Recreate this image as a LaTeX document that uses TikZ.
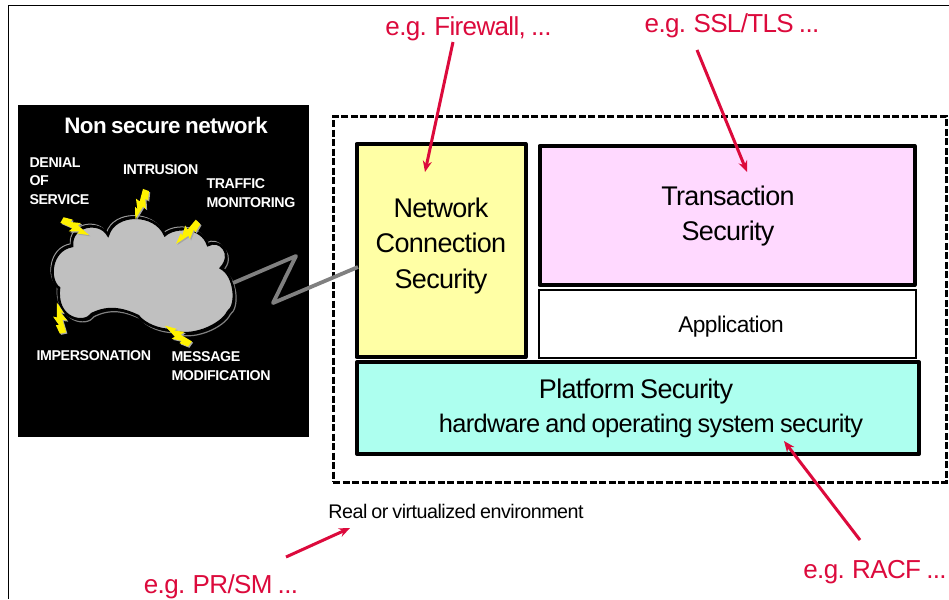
\documentclass[tikz,border=0pt]{standalone}
\usepackage{fontspec}
\setmainfont[LetterSpace=-2.5,WordSpace=0.8]{Liberation Sans}
\usetikzlibrary{arrows.meta}
\definecolor{redc}{HTML}{DC0A3C}
\definecolor{yel}{HTML}{FFFFA5}
\definecolor{pnk}{HTML}{FFD9FF}
\definecolor{aqua}{HTML}{ADFFEF}
\definecolor{cld}{HTML}{C0C0C0}
\tikzset{
 x=1pt,y=-1pt,
 every node/.style={outer sep=0pt},
 secbox/.style={draw=black,line width=4pt,line join=round},
 envbox/.style={draw=black,line width=3pt,dash pattern=on 7pt off 2.5pt},
 callout/.style={draw=redc,line width=3pt,-{Stealth[length=11pt,width=9pt]},shorten <=0pt},
 redtext/.style={text=redc,font=\fontsize{26}{28}\selectfont,inner sep=0pt,anchor=center},
 blk/.style={text=black,font=\fontsize{27}{35.5}\selectfont,align=center,inner sep=0pt},
 threat/.style={text=white,font=\fontsize{14.2}{18.6}\bfseries\selectfont,align=left,inner sep=0pt,anchor=north west},
}
\newcommand{\boltshape}{(0,-3.2) -- (13,-2) -- (11.5,-6.5) -- (21,-1.5) -- (19.5,-4.5) -- (31,0) -- (16.5,3) -- (18,6.5) -- (8.5,2.4) -- (9,5.5) -- (0,3.2) -- cycle}
\newcommand{\cloudshape}{(108,235)
 .. controls (115,212) and (155,212) .. (165,235)
 .. controls (175,226) and (202,226) .. (208,245)
 .. controls (220,238) and (234,254) .. (221,268)
 .. controls (235,275) and (238,305) .. (228,312)
 .. controls (222,325) and (190,340) .. (170,330)
 .. controls (160,330) and (145,325) .. (138,316)
 .. controls (125,310) and (110,305) .. (92,314)
 .. controls (85,325) and (55,320) .. (59,288)
 .. controls (48,280) and (50,250) .. (72,246)
 .. controls (70,225) and (100,220) .. (108,235) -- cycle}
\newcommand{\bolt}[4]{%
 \begin{scope}[shift={(#1+1.2,#2+1.2)},rotate={atan2(#2-#4,#3-#1)},x=1pt,y=1pt]
  \fill[gray!70] \boltshape;
 \end{scope}
 \begin{scope}[shift={(#1,#2)},rotate={atan2(#2-#4,#3-#1)},x=1pt,y=1pt]
  \fill[yellow] \boltshape;
 \end{scope}}
\begin{document}
\begin{tikzpicture}
\useasboundingbox (0,0) rectangle (949,599);
\fill[white] (0,0) rectangle (949,599);
\draw[black,line width=1.2pt] (949,5.5) -- (8.5,5.5) -- (8.5,599);
% black panel
\node[fill=black,minimum width=291pt,minimum height=332pt,inner sep=0pt,anchor=north west] (panel) at (18,105) {};
\node[text=white,font=\fontsize{22.4}{24}\bfseries\selectfont,inner sep=0pt] (title) at (166,125) {Non secure network};
% cloud
\begin{scope}[shift={(2.2,2.6)}]
 \draw[gray,line width=1.2pt] \cloudshape;
\end{scope}
\begin{scope}[shift={(-1.6,-2.2)}]
 \draw[gray!80,line width=1pt] \cloudshape;
\end{scope}
\draw[fill=cld,draw=black,line width=2.6pt] \cloudshape;
\bolt{62}{220}{89}{235}
\bolt{146}{190}{135}{220}
\bolt{198}{222}{176}{244}
\bolt{63}{333}{57}{303}
\bolt{190}{344}{164}{325}
\node[threat] (dos) at (29.5,157.5) {DENIAL\\OF\\SERVICE};
\node[threat] (intr) at (123,165) {INTRUSION};
\node[threat] (traf) at (206.5,178.5) {TRAFFIC\\MONITORING};
\node[threat] (imp) at (36.5,351) {IMPERSONATION};
\node[threat] (msg) at (171.5,351.5) {MESSAGE\\MODIFICATION};
% dashed env
\node[envbox,minimum width=613pt,minimum height=366pt,inner sep=0pt,anchor=north west] (env) at (333,116) {};
% boxes
\node[secbox,fill=yel,minimum width=169pt,minimum height=213pt,inner sep=0pt,anchor=north west] (net) at (356.5,144) {};
\node[blk] (netl) at (441,246) {Network\\Connection\\Security};
\node[secbox,fill=pnk,minimum width=375pt,minimum height=139pt,inner sep=0pt,anchor=north west] (trans) at (539.5,146) {};
\node[blk] (transl) at (728,216) {Transaction\\Security};
\node[draw=black,line width=2pt,fill=white,minimum width=377pt,minimum height=68pt,inner sep=0pt,anchor=north west] (app) at (538.5,289.5) {};
\node[text=black,font=\fontsize{22.7}{24}\selectfont,inner sep=0pt] (applbl) at (731,327) {Application};
\node[secbox,fill=aqua,minimum width=562pt,minimum height=92pt,inner sep=0pt,anchor=north west] (plat) at (357,362) {};
\node[text=black,font=\fontsize{27}{28}\selectfont,inner sep=0pt] (pl1) at (636,392) {Platform Security};
\node[text=black,font=\fontsize{25.4}{28}\selectfont,inner sep=0pt] (pl2) at (651,426) {hardware and operating system security};
\node[text=black,font=\fontsize{19.7}{20}\selectfont,inner sep=0pt] (real) at (456,511) {Real or virtualized environment};
% link
\coordinate (z1) at (296,256);
\coordinate (z2) at (273,303);
\coordinate (zs) at (233,283);
\coordinate (ze) at (358,267);
\draw[gray,line width=3.8pt,line join=round] (zs) -- (z1) -- (z2) -- (ze);
% callouts
\node[redtext] (fw) at (468.5,28.5) {e.g. Firewall, ...};
\node[redtext] (ssl) at (732,25.5) {e.g. SSL/TLS ...};
\node[redtext] (racf) at (875,572.5) {e.g. RACF ...};
\node[redtext] (pr) at (221,586.5) {e.g. PR/SM ...};
\coordinate (a1) at (453,42); \coordinate (b1) at (425,172);
\coordinate (a2) at (697,50); \coordinate (b2) at (747,172);
\coordinate (a3) at (860,540); \coordinate (b3) at (784,441);
\coordinate (a4) at (286,557); \coordinate (b4) at (350,528);
\draw[callout] (a1) -- (b1);
\draw[callout] (a2) -- (b2);
\draw[callout] (a3) -- (b3);
\draw[callout] (a4) -- (b4);
\end{tikzpicture}
\end{document}
